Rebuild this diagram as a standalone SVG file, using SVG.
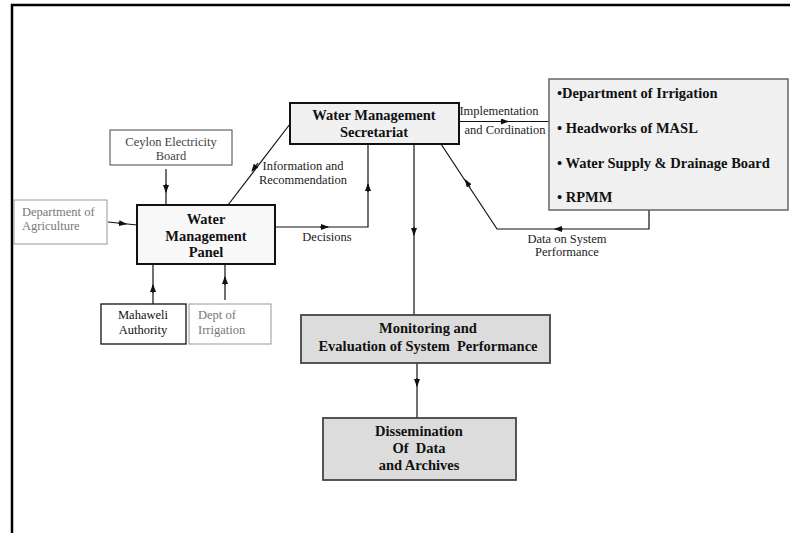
<svg xmlns="http://www.w3.org/2000/svg" width="790" height="533" viewBox="0 0 790 533">
<defs>
<style>
text{font-family:"Liberation Serif","Times New Roman",serif;}
.b{font-weight:bold;font-size:14.5px;fill:#111;}
.n{font-size:12.5px;fill:#222;}
.g{font-size:12.5px;fill:#777;}
.c{stroke:#111;stroke-width:1.2;fill:none;}
</style>
<marker id="ah" markerWidth="8" markerHeight="6" refX="7" refY="3" orient="auto" markerUnits="userSpaceOnUse">
<path d="M0,0 L8,3 L0,6 Z" fill="#111"/>
</marker>
</defs>
<rect width="790" height="533" fill="#fff"/>
<path d="M12,533 V5 H790" fill="none" stroke="#000" stroke-width="2.5"/>

<g id="connectors">
<path class="c" d="M290,124 L228,205"/>
<path class="c" d="M258,163 L252,171" marker-end="url(#ah)"/>
<path class="c" d="M275,227 H368 V144"/>
<path class="c" d="M320,227 H328" marker-end="url(#ah)"/>
<path class="c" d="M368,192 V184" marker-end="url(#ah)"/>
<path class="c" d="M166,169 V205"/>
<path class="c" d="M166,184 V192" marker-end="url(#ah)"/>
<path class="c" d="M108,222 L137,225"/>
<path class="c" d="M118,223 L126,224" marker-end="url(#ah)"/>
<path class="c" d="M153,304 V264"/>
<path class="c" d="M153,293 V285" marker-end="url(#ah)"/>
<path class="c" d="M225,300 V264"/>
<path class="c" d="M225,285 V277" marker-end="url(#ah)"/>
<path class="c" d="M459,121.5 H549"/>
<path class="c" d="M500,121.5 H508" marker-end="url(#ah)"/>
<path class="c" d="M649,210 V229 H497 L441,144"/>
<path class="c" d="M563,229 H555" marker-end="url(#ah)"/>
<path class="c" d="M470,187 L465.5,180" marker-end="url(#ah)"/>
<path class="c" d="M414,144 V315"/>
<path class="c" d="M414,227 V235" marker-end="url(#ah)"/>
<path class="c" d="M417,363 V418"/>
<path class="c" d="M417,378 V386" marker-end="url(#ah)"/>
</g>

<g id="labels">
<text class="n" x="303" y="170" text-anchor="middle">Information and</text>
<text class="n" x="303" y="184" text-anchor="middle">Recommendation</text>
<text class="n" x="327" y="241" text-anchor="middle">Decisions</text>
<text class="n" x="499" y="115" text-anchor="middle">Implementation</text>
<text class="n" x="505" y="134" text-anchor="middle">and Cordination</text>
<text class="n" x="567" y="243" text-anchor="middle">Data on System</text>
<text class="n" x="567" y="256" text-anchor="middle">Performance</text>
</g>

<g id="secretariat">
<rect x="290" y="103" width="169" height="41" fill="#f0f0f0" stroke="#111" stroke-width="2"/>
<text class="b" x="374" y="120" text-anchor="middle">Water Management</text>
<text class="b" x="374" y="137" text-anchor="middle">Secretariat</text>
</g>

<g id="ceylon">
<rect x="110" y="130" width="122" height="35" fill="#fff" stroke="#444" stroke-width="1"/>
<text class="n" x="171" y="146" text-anchor="middle" style="fill:#444">Ceylon Electricity</text>
<text class="n" x="171" y="160" text-anchor="middle" style="fill:#444">Board</text>
</g>

<g id="agriculture">
<rect x="14" y="200" width="93" height="44" fill="#fff" stroke="#999" stroke-width="1"/>
<text class="g" x="22" y="216">Department of</text>
<text class="g" x="22" y="230">Agriculture</text>
</g>

<g id="panel">
<rect x="137" y="205" width="138" height="59" fill="#f8f8f8" stroke="#111" stroke-width="2"/>
<text class="b" x="206" y="224" text-anchor="middle">Water</text>
<text class="b" x="206" y="241" text-anchor="middle">Management</text>
<text class="b" x="206" y="257" text-anchor="middle">Panel</text>
</g>

<g id="mahaweli">
<rect x="101" y="304" width="85" height="40" fill="#fff" stroke="#111" stroke-width="1.3"/>
<text class="n" x="143" y="319" text-anchor="middle" style="fill:#111">Mahaweli</text>
<text class="n" x="143" y="334" text-anchor="middle" style="fill:#111">Authority</text>
</g>

<g id="dept-irrigation">
<rect x="189" y="304" width="82" height="40" fill="#fff" stroke="#999" stroke-width="1"/>
<text class="g" x="198" y="319">Dept of</text>
<text class="g" x="198" y="334">Irrigation</text>
</g>

<g id="agencies">
<rect x="549" y="79" width="239" height="131" fill="#f0f0f0" stroke="#666" stroke-width="1.5"/>
<text class="b" x="557" y="98">•Department of Irrigation</text>
<text class="b" x="557" y="133">• Headworks of MASL</text>
<text class="b" x="557" y="168">• Water Supply &amp; Drainage Board</text>
<text class="b" x="557" y="202">• RPMM</text>
</g>

<g id="monitoring">
<rect x="301" y="315" width="249" height="48" fill="#dcdcdc" stroke="#444" stroke-width="1.8"/>
<text class="b" x="428" y="333" text-anchor="middle">Monitoring and</text>
<text class="b" x="428" y="351" text-anchor="middle" xml:space="preserve">Evaluation of System  Performance</text>
</g>

<g id="dissemination">
<rect x="323" y="418" width="193" height="62" fill="#dcdcdc" stroke="#444" stroke-width="1.8"/>
<text class="b" x="419" y="436" text-anchor="middle">Dissemination</text>
<text class="b" x="419" y="453" text-anchor="middle" xml:space="preserve">Of  Data</text>
<text class="b" x="419" y="470" text-anchor="middle">and Archives</text>
</g>
</svg>
